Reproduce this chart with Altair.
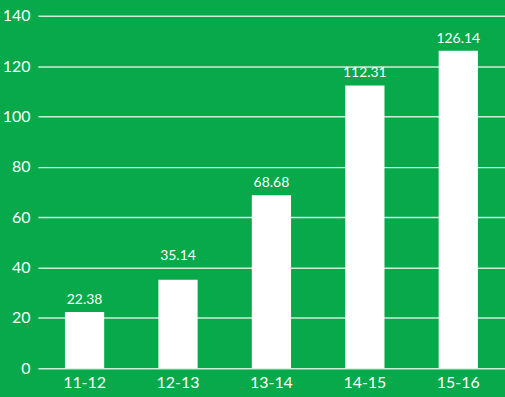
import altair as alt
import pandas as pd

years = ["11-12", "12-13", "13-14", "14-15", "15-16"]
values = [22.38, 35.14, 68.68, 112.31, 126.14]
labels = ["22.38", "35.14", "68.68", "112.31", "126.14"]

df = pd.DataFrame({"year": years, "value": values, "label": labels})

FONT = "Lato"
BG = "#07A94A"

x = alt.X("year:N", sort=years, title=None,
          scale=alt.Scale(paddingInner=0.58, paddingOuter=0.29),
          axis=alt.Axis(labelAngle=0, ticks=False, domain=False, grid=False,
                        labelColor="white", labelFont=FONT, labelFontSize=16,
                        labelPadding=6))
y = alt.Y("value:Q", title=None,
          scale=alt.Scale(domain=[0, 140], nice=False),
          axis=alt.Axis(values=list(range(0, 141, 20)), ticks=False, domain=False,
                        grid=True, gridColor="white", gridOpacity=0.8, gridWidth=1.5,
                        labelColor="white", labelFont=FONT, labelFontSize=16,
                        labelPadding=8))

bars = alt.Chart(df).mark_bar(color="white").encode(x=x, y=y)
enc = dict(x=alt.X("year:N", sort=years), y="value:Q", text="label:N")
text = alt.Chart(df).mark_text(color="white", font=FONT, fontSize=14,
                               baseline="bottom", dy=-5).encode(**enc).transform_filter(
    "datum.year != '12-13'")
text2 = alt.Chart(df).mark_text(color="white", font=FONT, fontSize=14,
                                baseline="bottom", dy=-17).encode(**enc).transform_filter(
    "datum.year == '12-13'")

chart = (bars + text + text2).properties(
    width=469, height=354, background=BG,
    autosize=alt.AutoSizeParams(type="none"),
    padding={"left": 38, "top": 15, "right": 0, "bottom": 28},
).configure_view(stroke=None)

chart.save("out.html", embed_options={"renderer": "svg", "actions": False})
